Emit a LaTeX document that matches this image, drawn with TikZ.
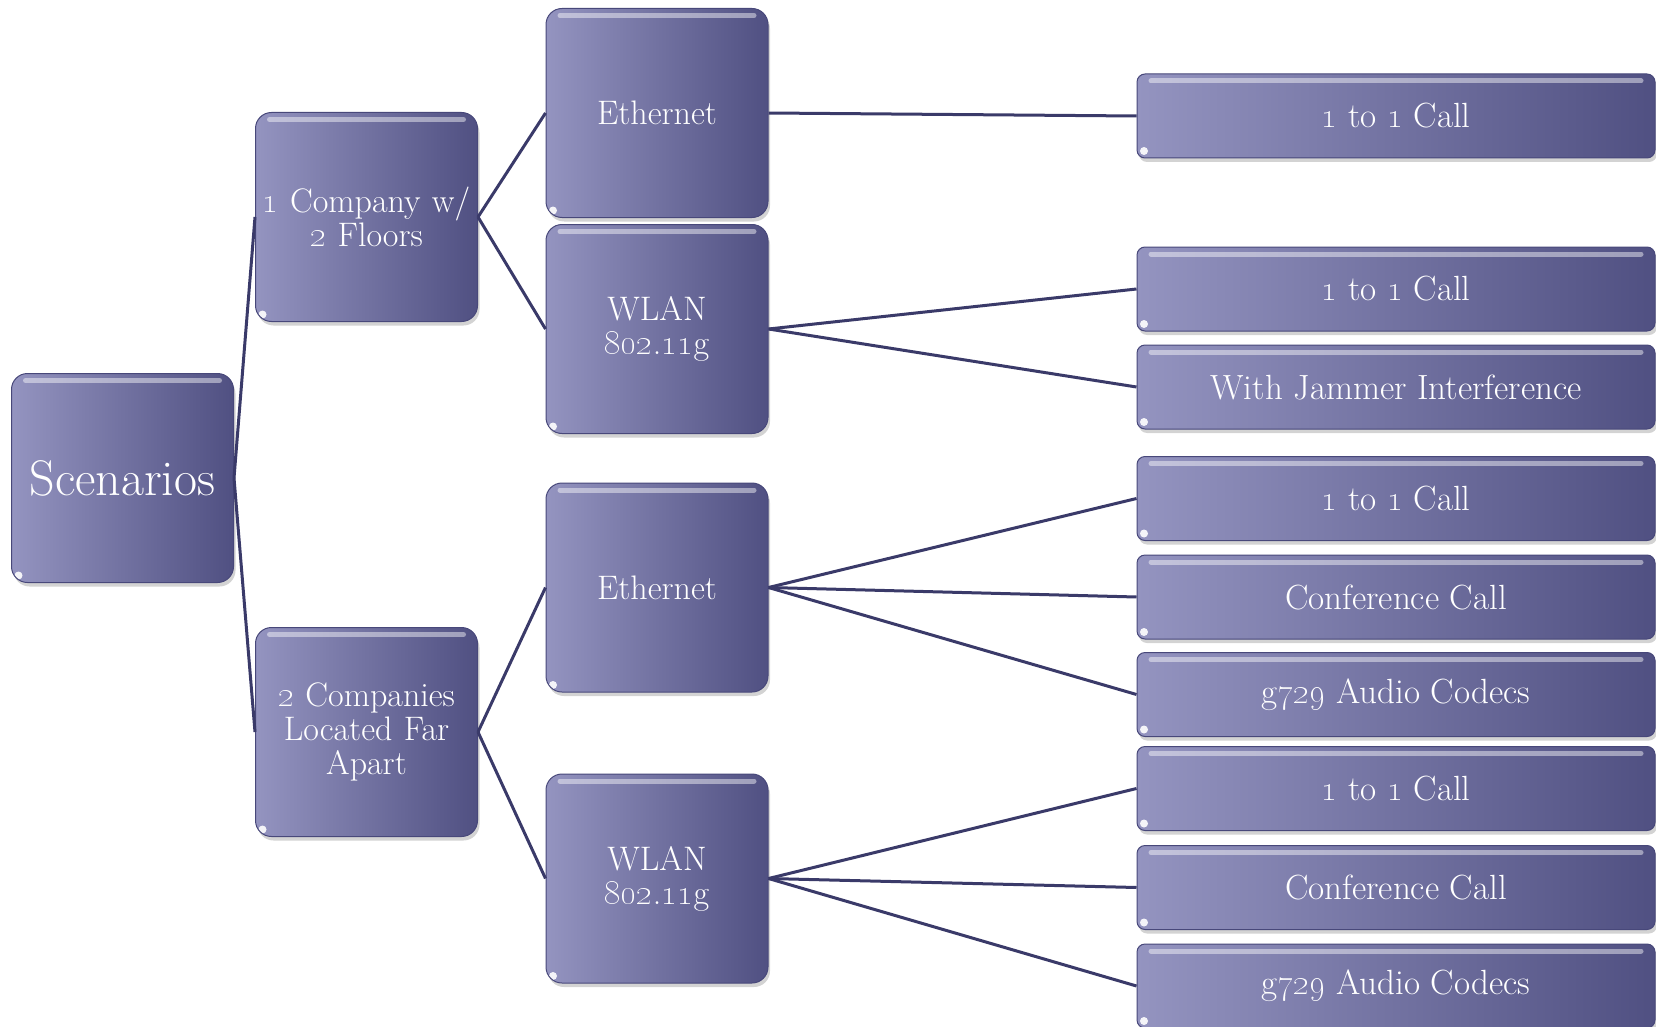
\documentclass[tikz,border=0pt]{standalone}
\usepackage{xcolor}
\definecolor{boxlight}{RGB}{148,148,192}
\definecolor{boxdark}{RGB}{80,80,130}
\definecolor{boxedge}{RGB}{72,72,122}
\definecolor{linkcol}{RGB}{58,58,105}
\usepackage{tikz}
\usetikzlibrary{shadows}
\newcommand{\osn}[1]{\oldstylenums{#1}}

\begin{document}
\begin{tikzpicture}[x=1pt, y=-1pt,
  box/.style={draw=boxedge, line width=1pt, left color=boxlight, right color=boxdark, text=white,
    drop shadow={opacity=0.35, shadow xshift=2pt, shadow yshift=-4pt},
    path picture={
      \draw[white, opacity=0.45, line width=5pt, line cap=round]
        ([xshift=14pt, yshift=-7pt]path picture bounding box.north west) --
        ([xshift=-14pt, yshift=-7pt]path picture bounding box.north east);
      \fill[white, opacity=0.9] ([xshift=7pt, yshift=7pt]path picture bounding box.south west) circle (4pt);
    }},
  tallbox/.style={box, rounded corners=16pt, minimum width=222pt, minimum height=209pt,
    text width=212pt, align=center, font=\fontsize{34}{34}\selectfont},
  widebox/.style={box, rounded corners=8pt, minimum width=518pt, minimum height=84pt,
    font=\fontsize{35}{35}\selectfont},
  link/.style={draw=linkcol, line width=3pt}
]
  \clip (0,0) rectangle (1656,1027);
  \useasboundingbox (0,0) rectangle (1656,1027);

  % root and scenarios
  \node[tallbox, font=\fontsize{50}{50}\selectfont] (scen) at (122.5,478) {Scenarios};
  \node[tallbox] (comp1) at (366.5,217) {\osn{1} Company w/\\\osn{2} Floors};
  \node[tallbox] (comp2) at (366.5,732) {\osn{2} Companies\\Located Far\\Apart};

  % networks
  \node[tallbox] (eth1) at (657,113) {Ethernet};
  \node[tallbox] (wlan1) at (657,329) {WLAN\\\osn{802}.\osn{11}g};
  \node[tallbox] (eth2) at (657,587.5) {Ethernet};
  \node[tallbox] (wlan2) at (657,878.5) {WLAN\\\osn{802}.\osn{11}g};

  % test cases
  \node[widebox] (call1) at (1396,116) {\osn{1} to \osn{1} Call};
  \node[widebox] (call2) at (1396,289) {\osn{1} to \osn{1} Call};
  \node[widebox] (jam) at (1396,387) {With Jammer Interference};
  \node[widebox] (call3) at (1396,498.5) {\osn{1} to \osn{1} Call};
  \node[widebox] (conf1) at (1396,597) {Conference Call};
  \node[widebox] (codec1) at (1396,694.5) {g\osn{729} Audio Codecs};
  \node[widebox] (call4) at (1396,788.5) {\osn{1} to \osn{1} Call};
  \node[widebox] (conf2) at (1396,887.5) {Conference Call};
  \node[widebox] (codec2) at (1396,986) {g\osn{729} Audio Codecs};

  \draw[link] (scen.east) -- (comp1.west);
  \draw[link] (scen.east) -- (comp2.west);
  \draw[link] (comp1.east) -- (eth1.west);
  \draw[link] (comp1.east) -- (wlan1.west);
  \draw[link] (comp2.east) -- (eth2.west);
  \draw[link] (comp2.east) -- (wlan2.west);
  \draw[link] (eth1.east) -- (call1.west);
  \draw[link] (wlan1.east) -- (call2.west);
  \draw[link] (wlan1.east) -- (jam.west);
  \draw[link] (eth2.east) -- (call3.west);
  \draw[link] (eth2.east) -- (conf1.west);
  \draw[link] (eth2.east) -- (codec1.west);
  \draw[link] (wlan2.east) -- (call4.west);
  \draw[link] (wlan2.east) -- (conf2.west);
  \draw[link] (wlan2.east) -- (codec2.west);
\end{tikzpicture}
\end{document}
